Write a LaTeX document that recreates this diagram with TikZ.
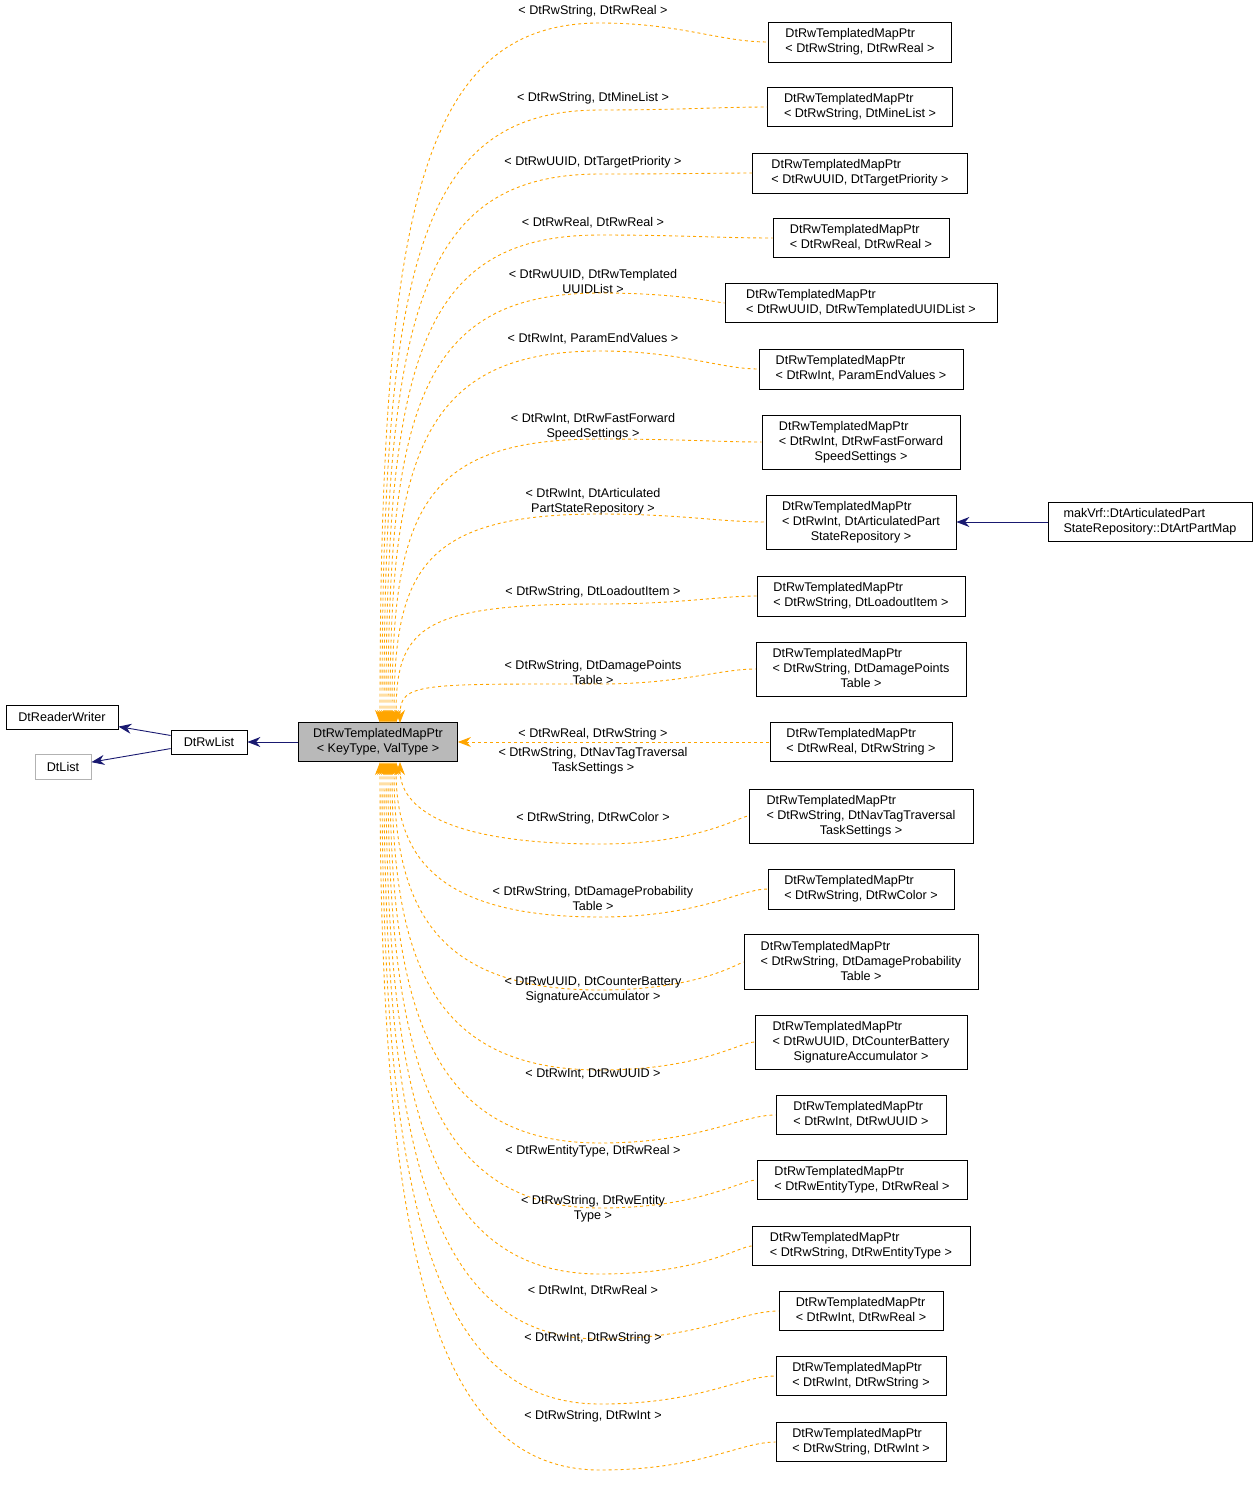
\documentclass[tikz,border=0pt]{standalone}
\usepackage{fontspec}
\setmainfont{Liberation Sans}
\usetikzlibrary{arrows.meta}
\definecolor{org}{RGB}{255,165,0}
\definecolor{nv}{RGB}{25,25,112}
\begin{document}
\fontsize{12.6}{15}\selectfont
\begin{tikzpicture}[x=1pt,y=-1pt,
 box/.style={draw=black,line width=0.8pt,inner sep=0pt,align=center},
 tmpl/.style={draw=org,dashed,line width=0.9pt,{Stealth[length=13pt,width=10pt]}-},
 inh/.style={draw=nv,line width=0.9pt,-{Stealth[length=13pt,width=10pt]}},
 lab/.style={inner sep=0pt,align=center}]
\useasboundingbox (0,0) rectangle (1259,1486);
\newcommand\tl[2]{\begin{tabular}{@{}c@{}}\multicolumn{1}{@{}l@{}}{#1}\\#2\end{tabular}}
\newcommand\cn[6]{\node[box,minimum width=#4,minimum height=#5] (#1) at (#2,#3) {\tl{DtRwTemplatedMapPtr}{#6}};}
\node[box,minimum width=112,minimum height=24] (rw) at (62,717) {DtReaderWriter};
\node[box,draw=gray!60,minimum width=56,minimum height=25] (dl) at (63,767) {DtList};
\node[box,minimum width=76,minimum height=24] (rl) at (209,742) {DtRwList};
\node[box,fill=gray!55,minimum width=159,minimum height=39] (m) at (378,742) {\tl{DtRwTemplatedMapPtr}{< KeyType, ValType >}};
\cn{c1}{860}{42}{183}{40}{< DtRwString, DtRwReal >}
\cn{c2}{860}{107}{185}{39}{< DtRwString, DtMineList >}
\cn{c3}{860}{173}{215}{40}{< DtRwUUID, DtTargetPriority >}
\cn{c4}{861}{238}{176}{39}{< DtRwReal, DtRwReal >}
\cn{c5}{861}{303}{272}{39}{< DtRwUUID, DtRwTemplatedUUIDList >}
\cn{c6}{861}{369}{204}{40}{< DtRwInt, ParamEndValues >}
\cn{c7}{861}{442}{198}{54}{< DtRwInt, DtRwFastForward\\SpeedSettings >}
\cn{c8}{861}{522}{190}{54}{< DtRwInt, DtArticulatedPart\\StateRepository >}
\cn{c9}{861}{596}{208}{40}{< DtRwString, DtLoadoutItem >}
\cn{c10}{861}{669}{210}{54}{< DtRwString, DtDamagePoints\\Table >}
\cn{c11}{861}{742}{182}{39}{< DtRwReal, DtRwString >}
\cn{c12}{861}{816}{224}{54}{< DtRwString, DtNavTagTraversal\\TaskSettings >}
\cn{c13}{861}{889}{186}{40}{< DtRwString, DtRwColor >}
\cn{c14}{861}{962}{234}{55}{< DtRwString, DtDamageProbability\\Table >}
\cn{c15}{861}{1042}{212}{54}{< DtRwUUID, DtCounterBattery\\SignatureAccumulator >}
\cn{c16}{861}{1115}{170}{39}{< DtRwInt, DtRwUUID >}
\cn{c17}{862}{1180}{210}{39}{< DtRwEntityType, DtRwReal >}
\cn{c18}{861}{1246}{218}{39}{< DtRwString, DtRwEntityType >}
\cn{c19}{861}{1311}{164}{39}{< DtRwInt, DtRwReal >}
\cn{c20}{861}{1376}{170}{39}{< DtRwInt, DtRwString >}
\cn{c21}{861}{1442}{170}{39}{< DtRwString, DtRwInt >}
\node[box,minimum width=204,minimum height=39] (mk) at (1150,522) {\tl{makVrf::DtArticulatedPart}{StateRepository::DtArtPartMap}};
\draw[inh] (rl) -- (rw);
\draw[inh] (rl) -- (dl);
\draw[inh] (m) -- (rl);
\draw[inh] (mk) -- (c8);
\draw[tmpl] (m.east) -- (c11.west);
\node[lab] at (593,734) {< DtRwReal, DtRwString >};
\foreach \c/\y/\ly/\t/\xo in {
 c1/42/11/{< DtRwString, DtRwReal >}/0,
 c2/107/98/{< DtRwString, DtMineList >}/2,
 c3/173/162/{< DtRwUUID, DtTargetPriority >}/4,
 c4/238/223/{< DtRwReal, DtRwReal >}/6,
 c5/303/281/{< DtRwUUID, DtRwTemplated\\UUIDList >}/8,
 c6/369/339/{< DtRwInt, ParamEndValues >}/10,
 c7/442/427/{< DtRwInt, DtRwFastForward\\SpeedSettings >}/12,
 c8/522/502/{< DtRwInt, DtArticulated\\PartStateRepository >}/14,
 c9/596/592/{< DtRwString, DtLoadoutItem >}/16,
 c10/669/672/{< DtRwString, DtDamagePoints\\Table >}/20}{
 \node[lab] at (593,\ly) {\t};
 \draw[tmpl] (380+\xo,723) .. controls (380+\xo,{\y+0.25*(723-\y)}) and (420,{\ly+12}) .. (600,{\ly+12}) .. controls (680,{\ly+12}) and (720,\y) .. (\c.west);
}
\foreach \c/\y/\ly/\t/\xo in {
 c12/816/761/{< DtRwString, DtNavTagTraversal\\TaskSettings >}/20,
 c13/889/818/{< DtRwString, DtRwColor >}/16,
 c14/962/898/{< DtRwString, DtDamageProbability\\Table >}/14,
 c15/1042/990/{< DtRwUUID, DtCounterBattery\\SignatureAccumulator >}/12,
 c16/1115/1074/{< DtRwInt, DtRwUUID >}/10,
 c17/1180/1151/{< DtRwEntityType, DtRwReal >}/8,
 c18/1246/1209/{< DtRwString, DtRwEntity\\Type >}/6,
 c19/1311/1291/{< DtRwInt, DtRwReal >}/4,
 c20/1376/1338/{< DtRwInt, DtRwString >}/2,
 c21/1442/1416/{< DtRwString, DtRwInt >}/0}{
 \node[lab] at (593,\ly) {\t};
 \draw[tmpl] (380+\xo,762) .. controls (380+\xo,{\y-0.3*(\y-762)}) and (430,{\y+28}) .. (600,{\y+28}) .. controls (700,{\y+28}) and (740,\y) .. (\c.west);
}
\end{tikzpicture}
\end{document}
